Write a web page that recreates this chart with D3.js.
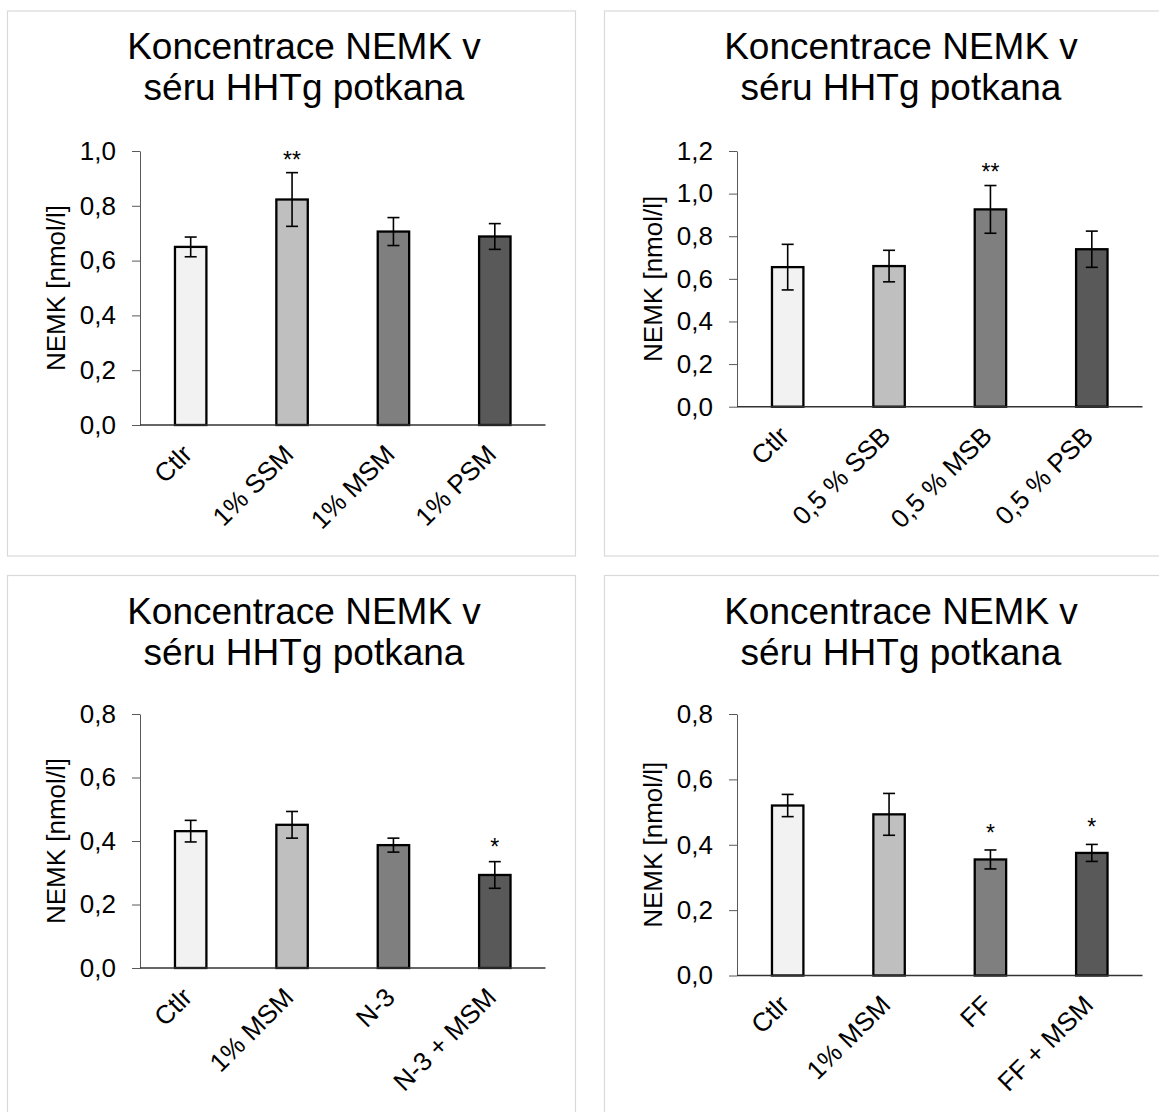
<!DOCTYPE html>
<html>
<head>
<meta charset="utf-8">
<script src="https://cdn.jsdelivr.net/npm/d3@7"></script>
<style>
body { margin: 0; background: #fff; }
text { font-family: "Liberation Sans", Arial, sans-serif; fill: #000; }
</style>
</head>
<body>
<div id="chart"></div>
<script>

// ---- data ----

var titleLines = ["Koncentrace NEMK v", "séru HHTg potkana"];
var yLabel = "NEMK [nmol/l]";

// panel A (top left)
var catsA = ["Ctlr", "1% SSM", "1% MSM", "1% PSM"];
var meansA = [0.650, 0.823, 0.706, 0.688];
var errsA = [0.036, 0.098, 0.051, 0.047];
var ticksA = [0, 0.2, 0.4, 0.6, 0.8, 1.0];
var starsA = ["", "**", "", ""];
var starAtA = [0, 0.985, 0, 0];

// panel B (top right)
var catsB = ["Ctlr", "0,5 % SSB", "0,5 % MSB", "0,5 % PSB"];
var meansB = [0.655, 0.660, 0.926, 0.739];
var errsB = [0.107, 0.074, 0.112, 0.085];
var ticksB = [0, 0.2, 0.4, 0.6, 0.8, 1.0, 1.2];
var starsB = ["", "", "**", ""];
var starAtB = [0, 0, 1.125, 0];

// panel C (bottom left)
var catsC = ["Ctlr", "1% MSM", "N-3", "N-3 + MSM"];
var meansC = [0.431, 0.451, 0.387, 0.293];
var errsC = [0.034, 0.042, 0.022, 0.042];
var ticksC = [0, 0.2, 0.4, 0.6, 0.8];
var starsC = ["", "", "", "*"];
var starAtC = [0, 0, 0, 0.398];

// panel D (bottom right)
var catsD = ["Ctlr", "1% MSM", "FF", "FF + MSM"];
var meansD = [0.520, 0.493, 0.355, 0.375];
var errsD = [0.034, 0.064, 0.029, 0.026];
var ticksD = [0, 0.2, 0.4, 0.6, 0.8];
var starsD = ["", "", "*", "*"];
var starAtD = [0, 0, 0.450, 0.470];

var barColors = ["#f2f2f2", "#bfbfbf", "#7f7f7f", "#595959"];

// ---- layout ----

var width = 1159,
    height = 1112,
    boxW = 568,
    boxH = 545,
    plotLeft = 133,
    plotRight = 538.5;

var panels = [
    { left: 7, top: 10.5, cats: catsA, means: meansA, errs: errsA, ticks: ticksA, stars: starsA, starAt: starAtA, plotTop: 140.5, plotBottom: 414.5 },
    { left: 604, top: 10.5, cats: catsB, means: meansB, errs: errsB, ticks: ticksB, stars: starsB, starAt: starAtB, plotTop: 140.5, plotBottom: 396.2 },
    { left: 7, top: 575, cats: catsC, means: meansC, errs: errsC, ticks: ticksC, stars: starsC, starAt: starAtC, plotTop: 139, plotBottom: 393 },
    { left: 604, top: 575, cats: catsD, means: meansD, errs: errsD, ticks: ticksD, stars: starsD, starAt: starAtD, plotTop: 139, plotBottom: 400.5 }
];

// czech decimal comma
var cz = d3.formatLocale({ decimal: ",", thousands: " ", grouping: [3], currency: ["", " Kč"] });
var fmt = cz.format(".1f");

var svg = d3.select("#chart").append("svg")
    .attr("width", width)
    .attr("height", height)
    .style("display", "block");

panels.forEach(function(p) {

    var g = svg.append("g")
        .attr("transform", "translate(" + p.left + "," + p.top + ")");

    // chart frame
    g.append("rect")
        .attr("x", 0.5)
        .attr("y", 0.5)
        .attr("width", boxW)
        .attr("height", boxH)
        .attr("fill", "#fff")
        .attr("stroke", "#d9d9d9")
        .attr("stroke-width", 1.2);

    // title
    var title = g.append("text")
        .attr("text-anchor", "middle")
        .style("font-size", "37px");
    titleLines.forEach(function(t, i) {
        title.append("tspan")
            .attr("x", 297)
            .attr("y", 48.5 + i * 41)
            .text(t);
    });

    var x = d3.scaleBand()
        .domain(p.cats)
        .range([plotLeft, plotRight])
        .paddingInner(0.69)
        .paddingOuter(0.345);

    var y = d3.scaleLinear()
        .domain([0, d3.max(p.ticks)])
        .range([p.plotBottom, p.plotTop]);

    // y axis
    var yAxis = g.append("g")
        .attr("transform", "translate(" + plotLeft + ",0)")
        .call(d3.axisLeft(y)
            .tickValues(p.ticks)
            .tickFormat(fmt)
            .tickSize(8)
            .tickSizeOuter(0)
            .tickPadding(16));
    yAxis.select(".domain").attr("stroke", "#595959").attr("stroke-width", 1);
    yAxis.selectAll(".tick line").attr("stroke", "#595959").attr("stroke-width", 1);
    yAxis.selectAll(".tick text")
        .attr("fill", "#000")
        .style("font-size", "26px")
        .style("font-family", "'Liberation Sans', Arial, sans-serif");

    // y axis title
    g.append("text")
        .attr("transform", "translate(58," + (p.plotTop + p.plotBottom) / 2 + ") rotate(-90)")
        .attr("text-anchor", "middle")
        .style("font-size", "26px")
        .text(yLabel);

    // bars
    g.selectAll("rect.bar")
        .data(p.means)
        .enter()
        .append("rect")
        .attr("class", "bar")
        .attr("x", function(d, i) { return x(p.cats[i]); })
        .attr("y", function(d) { return y(d); })
        .attr("width", x.bandwidth())
        .attr("height", function(d) { return y(0) - y(d); })
        .attr("fill", function(d, i) { return barColors[i]; })
        .attr("stroke", "#000")
        .attr("stroke-width", 2.3);

    // x axis line
    g.append("line")
        .attr("x1", plotLeft)
        .attr("x2", plotRight)
        .attr("y1", y(0))
        .attr("y2", y(0))
        .attr("stroke", "#333")
        .attr("stroke-width", 1.4);

    // error bars
    var eb = g.selectAll("g.err")
        .data(p.means)
        .enter()
        .append("g")
        .attr("class", "err")
        .attr("transform", function(d, i) {
            return "translate(" + (x(p.cats[i]) + x.bandwidth() / 2) + ",0)";
        });
    eb.append("line")
        .attr("y1", function(d, i) { return y(d - p.errs[i]); })
        .attr("y2", function(d, i) { return y(d + p.errs[i]); })
        .attr("stroke", "#000")
        .attr("stroke-width", 1.6);
    eb.append("line")
        .attr("x1", -6).attr("x2", 6)
        .attr("y1", function(d, i) { return y(d + p.errs[i]); })
        .attr("y2", function(d, i) { return y(d + p.errs[i]); })
        .attr("stroke", "#000")
        .attr("stroke-width", 1.6);
    eb.append("line")
        .attr("x1", -6).attr("x2", 6)
        .attr("y1", function(d, i) { return y(d - p.errs[i]); })
        .attr("y2", function(d, i) { return y(d - p.errs[i]); })
        .attr("stroke", "#000")
        .attr("stroke-width", 1.6);

    // significance stars (only where marked)
    var starData = p.stars.map(function(s, i) {
        return { text: s, cat: p.cats[i], at: p.starAt[i] };
    }).filter(function(d) { return d.text !== ""; });

    g.selectAll("text.star")
        .data(starData)
        .enter()
        .append("text")
        .attr("class", "star")
        .attr("text-anchor", "middle")
        .attr("x", function(d) { return x(d.cat) + x.bandwidth() / 2; })
        .attr("y", function(d) { return y(d.at) + 13; })
        .style("font-size", "23px")
        .text(function(d) { return d.text; });

    // rotated category labels
    g.selectAll("text.cat")
        .data(p.cats)
        .enter()
        .append("text")
        .attr("class", "cat")
        .attr("text-anchor", "end")
        .attr("transform", function(d) {
            return "translate(" + (x(d) + x.bandwidth() / 2 + 3) + "," + (y(0) + 31) + ") rotate(-45)";
        })
        .style("font-size", "26px")
        .text(function(d) { return d; });
});

</script>
</body>
</html>
